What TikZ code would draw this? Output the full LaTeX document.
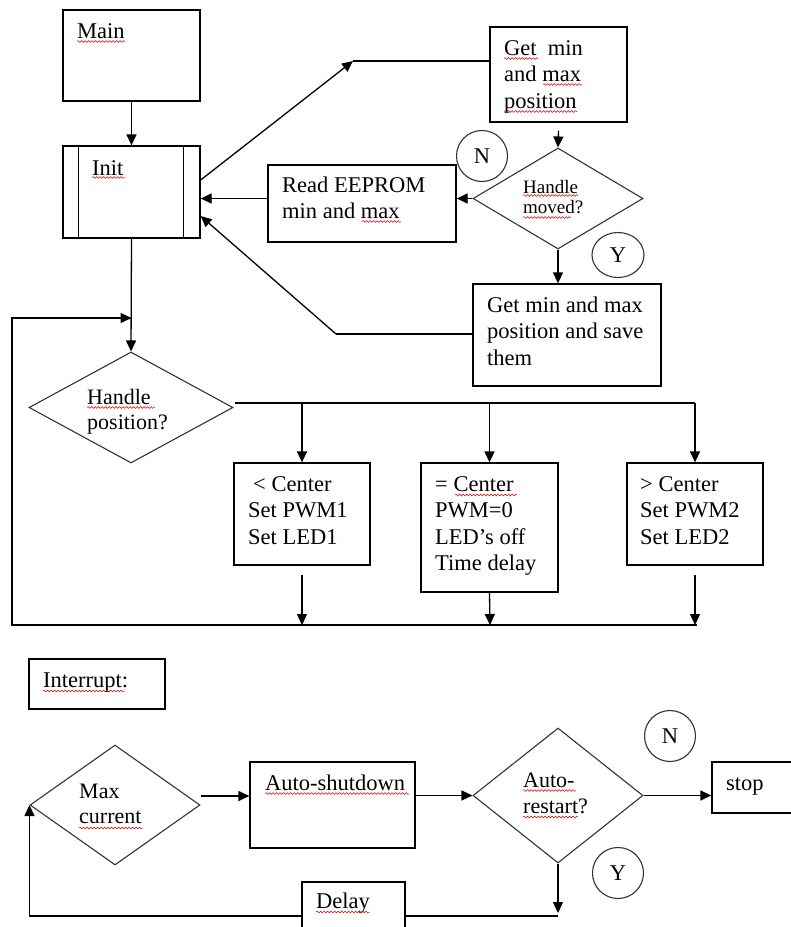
\documentclass[tikz,border=0pt]{standalone}
\usepackage{fontspec}
\setmainfont{Liberation Serif}
\usetikzlibrary{arrows.meta,shapes.geometric,decorations.pathmorphing,calc}
\newcommand\mylines[1]{\vtop{\halign{##\hfil\cr#1\crcr}}}
\begin{document}
\begin{tikzpicture}[x=1pt,y=-1pt,
  font=\fontsize{22.5}{26.5}\selectfont,
  box/.style={draw, line width=1.3pt, inner sep=0pt, fill=white},
  dia/.style={diamond, draw=black!80, line width=1.1pt, inner sep=0pt},
  circ/.style={ellipse, draw=black!80, line width=1.1pt, inner sep=0pt},
  txt/.style={anchor=base west, inner sep=0pt},
  arr/.style={line width=1.3pt, -{Triangle[length=11pt,width=10pt]}},
  ln/.style={line width=1.3pt},
  squig/.style={red!85!black, line width=0.5pt, decorate, decoration={snake, amplitude=0.9pt, segment length=3.5pt}}]
\useasboundingbox (0,0) rectangle (791,927);

% ---------- main loop ----------
\node[box, minimum width=137pt, minimum height=91pt] (main) at (131.5,55.5) {};
\node[box, minimum width=137pt, minimum height=92pt] (init) at (131.5,192) {};
\draw[line width=1.3pt] ([xshift=16pt]init.north west) -- ([xshift=16pt]init.south west)
                        ([xshift=-17pt]init.north east) -- ([xshift=-17pt]init.south east);
\node[box, minimum width=137pt, minimum height=95pt] (getmm) at (558.5,74.5) {};
\node[dia, minimum width=170pt, minimum height=101pt] (hm) at (558,198.5) {};
\node[circ, minimum width=51pt, minimum height=51pt] (n1) at (482,156) {N};
\node[box, minimum width=188pt, minimum height=77pt] (ree) at (362,203.5) {};
\node[circ, minimum width=52pt, minimum height=45pt] (y1) at (618,255) {Y};
\node[box, minimum width=188pt, minimum height=102pt] (save) at (567,335) {};
\node[dia, minimum width=204pt, minimum height=111pt] (hp) at (131,407.5) {};
\node[box, minimum width=136pt, minimum height=102pt] (lt) at (302,514) {};
\node[box, minimum width=137pt, minimum height=129pt] (eq) at (489.5,527.5) {};
\node[box, minimum width=136pt, minimum height=102pt] (gt) at (695,514) {};

% texts
\node[txt] (tmain) at (77,38) {Main};
\node[txt] (tinit) at (92,175) {Init};
\node[txt] (tget) at (504,55) {\mylines{Get~~min\cr and max\cr position}};
\node[txt] (tree) at (282,192) {\mylines{Read EEPROM\cr min and max}};
\node[txt, font=\fontsize{19}{20}\selectfont] (thm) at (523,193) {\mylines{Handle\cr moved?}};
\node[txt] (tsave) at (487,312) {\mylines{Get min and max\cr position and save\cr them}};
\node[txt, font=\fontsize{22}{25}\selectfont] (thp) at (87,404) {\mylines{Handle\cr position?}};
\node[txt] (tlt) at (248,491) {\mylines{\kern5pt< Center\cr Set PWM1\cr Set LED1}};
\node[txt] (teq) at (435,491) {\mylines{= Center\cr PWM=0\cr LED’s off\cr Time delay}};
\node[txt] (tgt) at (640,491) {\mylines{> Center\cr Set PWM2\cr Set LED2}};

% connectors
\draw[arr] (main.south) -- (init.north);
\draw[arr] (init.south) -- (hp.north);
\coordinate (c1) at (353,61);
\draw[arr] (init.east |- 0,180) -- (c1);
\draw[ln] (c1) -- (getmm.west |- c1);
\draw[arr] ([yshift=-8pt]getmm.south) -- (hm.north);
\draw[arr] (hm.west) -- (hm.west -| ree.east);
\draw[arr] (ree.west |- hm.west) -- (init.east |- hm.west);
\draw[arr] (hm.south) -- (hm.south |- save.north);
\coordinate (c2) at (336,334);
\draw[ln] (save.west |- c2) -- (c2);
\draw[arr] (c2) -- (init.east |- 0,216);
\coordinate (hpo) at (235,403);
\draw[ln] (hpo) -- (gt.north |- hpo);
\draw[arr] (lt.north |- hpo) -- (lt.north);
\draw[arr] (eq.north |- hpo) -- (eq.north);
\draw[arr] (gt.north |- hpo) -- (gt.north);
\coordinate (jl) at (302,625);
\coordinate (je) at (490,625);
\coordinate (jr) at (697,625);
\draw[arr] ([yshift=-9pt]lt.south) -- (jl);
\draw[arr] (eq.south) -- (je);
\draw[arr] ([yshift=-9pt]gt.south) -- (gt.south |- jr);
\coordinate (lb) at (12,625);
\coordinate (lt0) at (12,318);
\draw[arr] (jr) -- (lb) -- (lt0) -- (init.south |- lt0);

% ---------- interrupt ----------
\node[box, minimum width=136pt, minimum height=50pt] (intr) at (97,684) {};
\node[txt] (tintr) at (43,687) {Interrupt:};
\node[dia, minimum width=170pt, minimum height=120pt] (mc) at (115,805) {};
\node[txt, font=\fontsize{22}{25}\selectfont] (tmc) at (79,798) {\mylines{Max\cr current}};
\node[box, minimum width=165pt, minimum height=86pt] (as) at (332.5,805) {};
\node[txt] (tas) at (265,790) {Auto-shutdown};
\node[dia, minimum width=170pt, minimum height=135pt] (ar) at (558,795.5) {};
\node[txt, font=\fontsize{22}{26}\selectfont] (tar) at (523,787) {\mylines{Auto-\cr restart?}};
\node[circ, minimum width=51pt, minimum height=51pt] (n2) at (670,736) {N};
\node[box, minimum width=88pt, minimum height=51pt] (stop) at (756,787.5) {};
\node[txt] (tstop) at (726,790) {stop};
\node[circ, minimum width=51pt, minimum height=51pt] (y2) at (618,873) {Y};

\draw[arr] (mc.east |- 0,796) -- (as.west |- 0,796);
\draw[arr] (as.east |- ar.west) -- (ar.west);
\draw[arr] (ar.east) -- (ar.east -| stop.west);
\coordinate (cb) at (558,916);
\draw[arr] (ar.south) -- ([yshift=3pt]cb);
\draw[arr] (cb) -| (mc.west);

\node[box, minimum width=103pt, minimum height=53pt] (delay) at (353.5,908.5) {};
\node[txt] (tdelay) at (316,908) {Delay};

% spell-check underlines
\draw[squig] (77,41.5) -- (125,41.5);
\draw[squig] (92,177.5) -- (125,177.5);
\draw[squig] (504,58.5) -- (538,58.5);
\draw[squig] (543,84.5) -- (582,84.5);
\draw[squig] (504,111.5) -- (577,111.5);
\draw[squig] (362,221.5) -- (401,221.5);
\draw[squig] (523,195.5) -- (578,195.5);
\draw[squig] (523,217.5) -- (571,217.5);
\draw[squig] (87,407.5) -- (155,407.5);
\draw[squig] (455,495) -- (517,495);
\draw[squig] (43,691) -- (125,691);
\draw[squig] (79,828) -- (143,828);
\draw[squig] (265,793.5) -- (409,793.5);
\draw[squig] (523,790.5) -- (576,790.5);
\draw[squig] (523,817) -- (578,817);
\draw[squig] (316,912) -- (370,912);
\end{tikzpicture}
\end{document}
